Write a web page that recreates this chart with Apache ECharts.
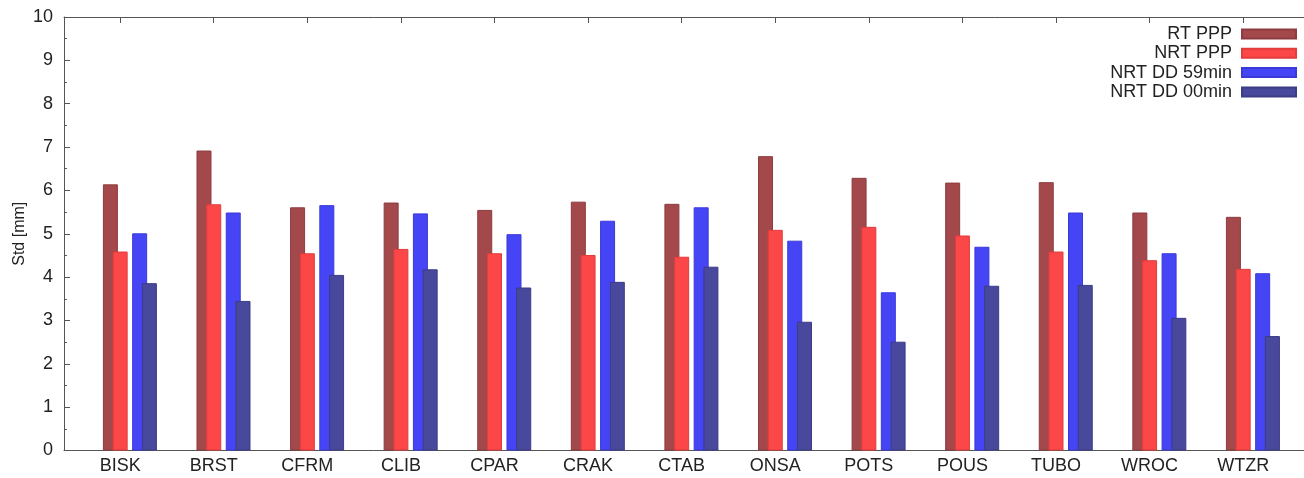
<!DOCTYPE html>
<html>
<head>
<meta charset="utf-8">
<script src="https://cdn.jsdelivr.net/npm/echarts@6/dist/echarts.min.js"></script>
<style>
html,body{margin:0;padding:0;background:#fff;}
#chart{width:1304px;height:478px;}
</style>
</head>
<body>
<div id="chart"></div>
<script>
const categories = ['BISK','BRST','CFRM','CLIB','CPAR','CRAK','CTAB','ONSA','POTS','POUS','TUBO','WROC','WTZR'];
const rtPPP     = [6.14, 6.92, 5.61, 5.72, 5.55, 5.74, 5.69, 6.79, 6.29, 6.18, 6.19, 5.49, 5.39];
const nrtPPP    = [4.59, 5.68, 4.55, 4.65, 4.55, 4.51, 4.47, 5.09, 5.16, 4.96, 4.59, 4.39, 4.19];
const nrtDD59   = [5.01, 5.49, 5.66, 5.47, 4.99, 5.30, 5.61, 4.84, 3.65, 4.70, 5.49, 4.55, 4.09];
const nrtDD00   = [3.86, 3.45, 4.05, 4.18, 3.76, 3.89, 4.24, 2.97, 2.51, 3.80, 3.82, 3.06, 2.64];
const seriesNames = ['RT PPP','NRT PPP','NRT DD 59min','NRT DD 00min'];
const yTicks = [0,1,2,3,4,5,6,7,8,9,10];

const FONT = 'Liberation Sans, Arial, Helvetica, sans-serif';
const TXT = '#222';
const AX = '#555';
const catIdx = categories.map((c, i) => i);
const toPairs = arr => arr.map((v, i) => [i, v]);

const barCommon = { type: 'bar', barWidth: 15, barGap: '-35%', xAxisIndex: 0, yAxisIndex: 0 };
const spacer = name => Object.assign({}, barCommon, { name: name, data: [], itemStyle: { color: 'rgba(0,0,0,0)' } });
const mk = (name, arr, color, border) => Object.assign({}, barCommon, {
  name: name, data: toPairs(arr),
  itemStyle: { color: color, borderColor: border, borderWidth: 1 }
});

const chart = echarts.init(document.getElementById('chart'), null, { renderer: 'canvas' });
chart.setOption({
  animation: false,
  backgroundColor: '#fff',
  textStyle: { fontFamily: FONT },
  grid: { left: 64, right: 0, top: 17, bottom: 27.5, containLabel: false, outerBoundsMode: 'none' },
  legend: {
    data: seriesNames,
    orient: 'vertical',
    align: 'right',
    right: 2,
    top: 20,
    itemWidth: 54,
    itemHeight: 9,
    itemGap: 1.3,
    icon: 'rect',
    textStyle: { fontFamily: FONT, fontSize: 18, color: TXT, lineHeight: 18, padding: [0, 5, 0, 0] }
  },
  xAxis: [
    {
      type: 'value', position: 'bottom', min: -0.6, max: 12.65,
      splitLine: { show: false },
      axisLine: { show: true, onZero: false, lineStyle: { color: AX, width: 1 } },
      axisTick: { show: true, inside: true, length: 6, customValues: catIdx, lineStyle: { color: AX } },
      axisLabel: {
        customValues: catIdx, margin: 7, fontSize: 18, color: TXT, fontFamily: FONT,
        formatter: v => categories[Math.round(v)] || ''
      }
    },
    {
      type: 'value', position: 'top', min: -0.6, max: 12.65,
      splitLine: { show: false },
      axisLine: { show: true, onZero: false, lineStyle: { color: AX, width: 1 } },
      axisTick: { show: true, inside: true, length: 6, customValues: catIdx, lineStyle: { color: AX } },
      axisLabel: { show: false }
    }
  ],
  yAxis: {
    type: 'value', min: 0, max: 10, interval: 1, position: 'left',
    name: 'Std [mm]', nameLocation: 'middle', nameGap: 36, nameRotate: 90, nameMoveOverlap: false,
    nameTextStyle: { fontSize: 16, color: TXT, fontFamily: FONT },
    splitLine: { show: false },
    axisLine: { show: true, onZero: false, lineStyle: { color: AX, width: 1 } },
    axisTick: { show: true, inside: true, length: 6, lineStyle: { color: AX } },
    minorTick: { show: true, splitNumber: 2, length: 3, lineStyle: { color: AX } },
    axisLabel: { margin: 11, fontSize: 18, color: TXT, fontFamily: FONT,
      formatter: v => String(yTicks[Math.round(v)]) }
  },
  series: [
    spacer('_s1'),
    spacer('_s2'),
    mk(seriesNames[0], rtPPP, '#a3484b', '#8e3c3f'),
    mk(seriesNames[1], nrtPPP, '#fb4747', '#e23c3c'),
    spacer('_s3'),
    mk(seriesNames[2], nrtDD59, '#4545f6', '#3a3ad8'),
    mk(seriesNames[3], nrtDD00, '#48489c', '#3c3c86')
  ]
});
</script>
</body>
</html>
